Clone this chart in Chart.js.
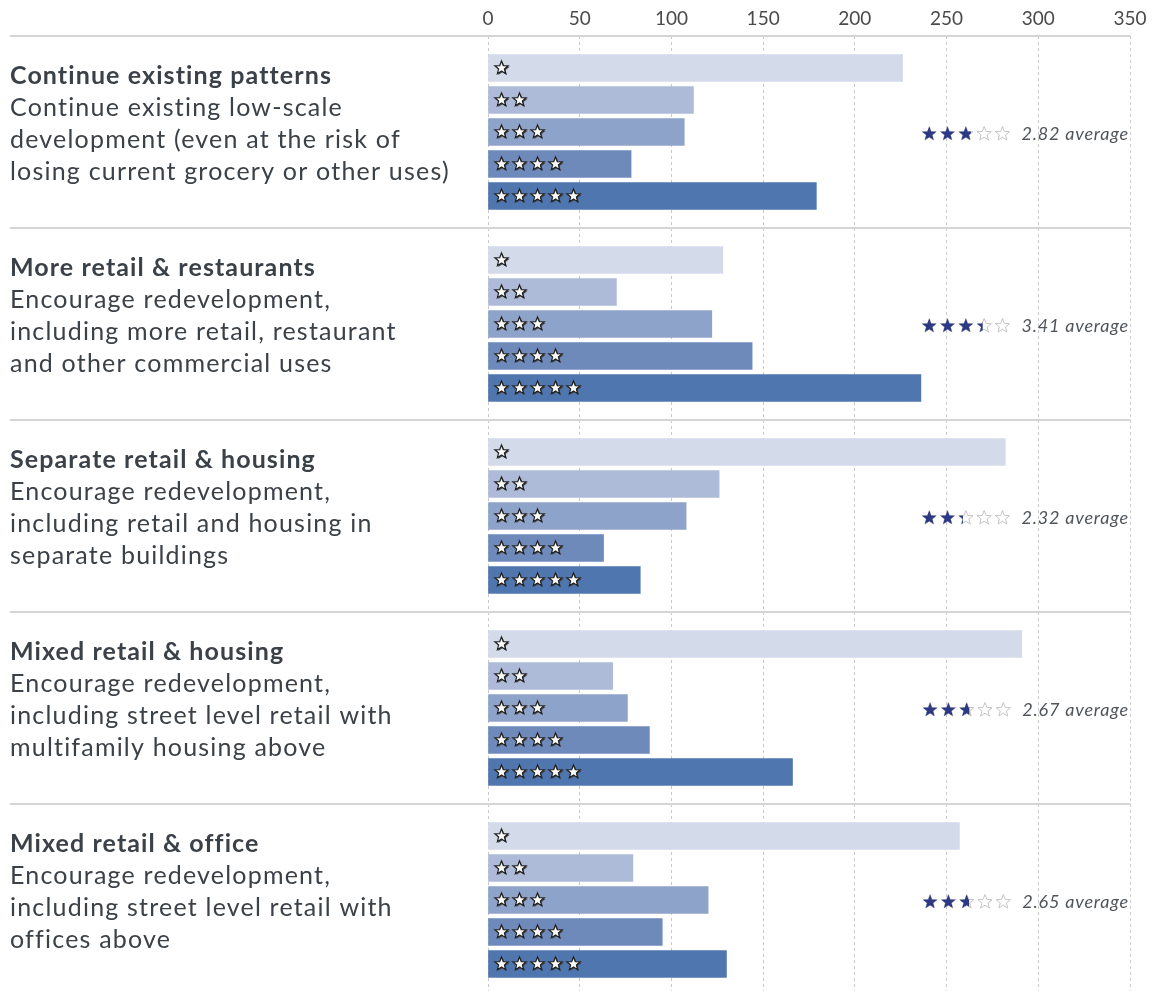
<!DOCTYPE html>
<html>
<head>
<meta charset="utf-8">
<script src="https://cdn.jsdelivr.net/npm/chart.js@4"></script>
<style>
  body { margin: 0; overflow: hidden; background: #fff; }
  #wrap { position: relative; width: 1163px; height: 1000px; }
</style>
</head>
<body>
<div id="wrap"><canvas id="grafico"></canvas></div>
<script>
// dados
var grupos = [
    'Continue existing patterns',
    'More retail & restaurants',
    'Separate retail & housing',
    'Mixed retail & housing',
    'Mixed retail & office'
];
var descricoes = [
    ['Continue existing low-scale', 'development (even at the risk of', 'losing current grocery or other uses)'],
    ['Encourage redevelopment,', 'including more retail, restaurant', 'and other commercial uses'],
    ['Encourage redevelopment,', 'including retail and housing in', 'separate buildings'],
    ['Encourage redevelopment,', 'including street level retail with', 'multifamily housing above'],
    ['Encourage redevelopment,', 'including street level retail with', 'offices above']
];
var umaEstrela    = [226, 128, 282, 291, 257];
var duasEstrelas  = [112,  70, 126,  68,  79];
var tresEstrelas  = [107, 122, 108,  76, 120];
var quatroEstrelas = [78, 144,  63,  88,  95];
var cincoEstrelas = [179, 236,  83, 166, 130];
var medias = [2.82, 3.41, 2.32, 2.67, 2.65];
var xTicks = [0, 50, 100, 150, 200, 250, 300, 350];

var series = [umaEstrela, duasEstrelas, tresEstrelas, quatroEstrelas, cincoEstrelas];
var cores = ['#d3daea', '#adbbd9', '#8ea3c9', '#6e8aba', '#4f76ae'];

// categorias: uma linha separadora + 5 barras por grupo
var labels = [];
grupos.forEach((g, i) => {
    labels.push('sep' + i);
    for (var k = 1; k <= 5; k++) labels.push(g + ' ' + k);
});
labels.push('fim');

var datasets = series.map((valores, k) => {
    var data = labels.map(() => null);
    valores.forEach((v, g) => { data[g * 6 + k + 1] = v; });
    return {
        label: (k + 1) + ' star',
        data: data,
        backgroundColor: cores[k],
        barThickness: 27,
        grouped: false
    };
});

function estrela(ctx, cx, cy, rOut, rIn) {
    ctx.beginPath();
    for (var i = 0; i < 10; i++) {
        var r = i % 2 === 0 ? rOut : rIn;
        var a = -Math.PI / 2 + i * Math.PI / 5;
        var px = cx + r * Math.cos(a), py = cy + r * Math.sin(a);
        if (i === 0) ctx.moveTo(px, py); else ctx.lineTo(px, py);
    }
    ctx.closePath();
}

var desenhos = {
    id: 'desenhos',
    beforeDatasetsDraw(chart) {
        var ctx = chart.ctx, y = chart.scales.y, area = chart.chartArea;
        ctx.save();
        ctx.strokeStyle = '#d4d4d4';
        ctx.lineWidth = 2;
        for (var g = 0; g < grupos.length; g++) {
            var py = y.getPixelForValue(g * 6);
            ctx.beginPath();
            ctx.moveTo(10, py);
            ctx.lineTo(area.right, py);
            ctx.stroke();
        }
        ctx.restore();
    },
    afterDatasetsDraw(chart) {
        var ctx = chart.ctx, y = chart.scales.y, area = chart.chartArea;
        ctx.save();
        // estrelas dentro das barras
        chart.data.datasets.forEach((ds, k) => {
            chart.getDatasetMeta(k).data.forEach((bar, i) => {
                if (ds.data[i] == null) return;
                for (var j = 0; j <= k; j++) {
                    var cx = bar.base + 13 + 18 * j, cy = bar.y;
                    estrela(ctx, cx + 1, cy + 1, 7.5, 3.3);
                    ctx.fillStyle = '#444';
                    ctx.fill();
                    estrela(ctx, cx, cy, 7, 3);
                    ctx.fillStyle = '#fff';
                    ctx.fill();
                    ctx.strokeStyle = '#222';
                    ctx.lineWidth = 1.2;
                    ctx.stroke();
                }
            });
        });

        // textos dos grupos
        ctx.textBaseline = 'middle';
        ctx.textAlign = 'left';
        grupos.forEach((g, i) => {
            var topo = y.getPixelForValue(i * 6);
            ctx.fillStyle = '#3b4148';
            ctx.font = 'bold 25px Lato';
            ctx.letterSpacing = '1.1px';
            ctx.fillText(g, 10, topo + 40);
            ctx.font = '25px Lato';
            ctx.letterSpacing = '1.2px';
            descricoes[i].forEach((linha, n) => {
                ctx.fillText(linha, 10, topo + 72 + 32 * n);
            });
        });

        // médias
        medias.forEach((m, i) => {
            var cy = y.getPixelForValue(i * 6 + 3) + 2;
            var texto = m.toFixed(2) + ' average';
            ctx.font = 'italic 18px Lato';
            ctx.letterSpacing = '0.8px';
            ctx.fillStyle = '#50555c';
            ctx.textAlign = 'right';
            var xt = area.right - 1;
            ctx.fillText(texto, xt, cy);
            var inicio = xt - ctx.measureText(texto).width;
            for (var j = 0; j < 5; j++) {
                var cx = inicio - 19 - 18.3 * (4 - j);
                estrela(ctx, cx, cy, 7.5, 3.2);
                ctx.fillStyle = '#fff';
                ctx.fill();
                ctx.strokeStyle = '#c4c4c4';
                ctx.lineWidth = 1;
                ctx.stroke();
                var frac = Math.max(0, Math.min(1, m - j));
                if (frac > 0) {
                    ctx.save();
                    ctx.beginPath();
                    ctx.rect(cx - 8, cy - 9, 16 * frac, 18);
                    ctx.clip();
                    estrela(ctx, cx, cy, 7.5, 3.2);
                    ctx.fillStyle = '#2c3a85';
                    ctx.fill();
                    ctx.restore();
                }
            }
        });
        ctx.letterSpacing = '0px';
        ctx.restore();
    }
};

var ctx = document.getElementById('grafico');
var grafico = new Chart(ctx, {
    type: 'bar',
    data: { labels: labels, datasets: datasets },
    options: {
        indexAxis: 'y',
        responsive: true,
        maintainAspectRatio: false,
        animation: false,
        layout: { padding: { left: 488, right: 33, top: 0, bottom: 4 } },
        plugins: { legend: { display: false }, tooltip: { enabled: false } },
        scales: {
            x: {
                position: 'top',
                min: 0,
                max: 350,
                afterBuildTicks: (s) => { s.ticks = xTicks.map(v => ({ value: v })); },
                afterFit: (s) => { s.height = 36; },
                ticks: { font: { family: 'Lato', size: 19 }, color: '#4a4a4a', padding: 6 },
                grid: { color: '#c8c8c8', lineWidth: 1, drawTicks: false },
                border: { display: false, dash: [3, 3] }
            },
            y: {
                display: false,
                offset: false
            }
        }
    },
    plugins: [desenhos]
});
</script>
</body>
</html>
